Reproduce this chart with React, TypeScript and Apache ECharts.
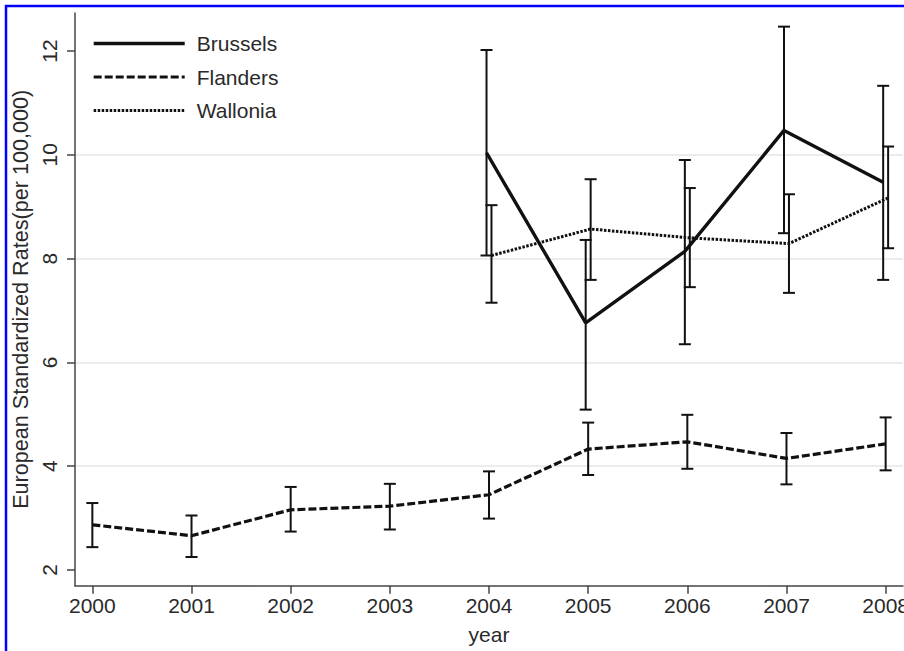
import React, { useEffect, useRef } from "react";
import * as echarts from "echarts";

const years = [2000, 2001, 2002, 2003, 2004, 2005, 2006, 2007, 2008];
const yTicks = [2, 4, 6, 8, 10, 12];

const flandersRate = [2.87, 2.66, 3.16, 3.23, 3.45, 4.33, 4.47, 4.15, 4.43];
const flandersLow = [2.44, 2.25, 2.74, 2.78, 2.99, 3.83, 3.95, 3.65, 3.92];
const flandersHigh = [3.29, 3.05, 3.6, 3.66, 3.9, 4.84, 4.99, 4.64, 4.94];

const regionYears = [2004, 2005, 2006, 2007, 2008];
const brusselsRate = [10.04, 6.76, 8.14, 10.47, 9.47];
const brusselsLow = [8.06, 5.09, 6.35, 8.49, 7.59];
const brusselsHigh = [12.02, 8.36, 9.9, 12.47, 11.33];

const walloniaRate = [8.06, 8.57, 8.4, 8.29, 9.17];
const walloniaLow = [7.15, 7.59, 7.45, 7.34, 8.2];
const walloniaHigh = [9.03, 9.53, 9.36, 9.24, 10.16];

const brusselsJitter = -0.025;
const walloniaJitter = 0.025;

const FONT = "'Liberation Sans', Arial, sans-serif";
const INK = "#111";
const TEXT = "#2a2a2a";

function errSeries(name: string, xs: number[], lo: number[], hi: number[], shift: number) {
  return {
    type: "custom",
    name,
    data: xs.map((x, i) => [x + shift, lo[i], hi[i]]),
    encode: { x: 0, y: [1, 2] },
    z: 3,
    silent: true,
    renderItem: (_params: any, api: any) => {
      const x = api.value(0);
      const l = api.value(1);
      const h = api.value(2);
      const p1 = api.coord([x, h]);
      const p2 = api.coord([x, l]);
      const w = 6;
      const style = { stroke: INK, lineWidth: 2 };
      return {
        type: "group",
        children: [
          { type: "line", shape: { x1: p1[0], y1: p1[1], x2: p2[0], y2: p2[1] }, style },
          { type: "line", shape: { x1: p1[0] - w, y1: p1[1], x2: p1[0] + w, y2: p1[1] }, style },
          { type: "line", shape: { x1: p2[0] - w, y1: p2[1], x2: p2[0] + w, y2: p2[1] }, style },
        ],
      };
    },
  };
}

export default function App() {
  const ref = useRef<HTMLDivElement>(null);
  useEffect(() => {
    if (!ref.current) return;
    const chart = echarts.init(ref.current, null, { renderer: "svg" });
    chart.setOption({
      animation: false,
      backgroundColor: "#fff",
      textStyle: { fontFamily: FONT },
      grid: { left: 75, right: 1, top: 13, bottom: 65.3, containLabel: false, outerBoundsMode: "none" },
      legend: {
        orient: "vertical",
        left: 92,
        top: 33,
        padding: 0,
        itemWidth: 91,
        itemHeight: 14,
        itemGap: 12.5,
        selectedMode: false,
        itemStyle: { opacity: 0 },
        textStyle: { fontSize: 21, color: TEXT, fontFamily: FONT, padding: [0, 0, 0, 7] },
        data: [
          { name: "Brussels", lineStyle: { width: 3.4 } },
          { name: "Flanders", lineStyle: { width: 3.2 } },
          { name: "Wallonia", lineStyle: { width: 3 } },
        ],
      },
      xAxis: {
        type: "value",
        min: 1999.825,
        max: 2008.175,
        name: "year",
        nameLocation: "middle",
        nameGap: 38,
        nameTextStyle: { fontSize: 21, color: TEXT, fontFamily: FONT },
        axisLine: { show: true, onZero: false, lineStyle: { color: "#444", width: 1.5 } },
        axisTick: { show: true, length: 8, customValues: years, lineStyle: { color: "#444", width: 1.5 } },
        axisLabel: {
          customValues: years,
          fontSize: 21,
          color: TEXT,
          margin: 9,
          formatter: (v: number) => String(Math.round(v)),
        },
        splitLine: { show: false },
      },
      yAxis: {
        type: "value",
        min: 1.697,
        max: 12.733,
        name: "European Standardized Rates(per 100,000)",
        nameLocation: "middle",
        nameGap: 43,
        nameTextStyle: { fontSize: 21.6, color: TEXT, fontFamily: FONT },
        axisLine: { show: true, onZero: false, lineStyle: { color: "#444", width: 1.5 } },
        axisTick: { show: true, length: 8, customValues: yTicks, lineStyle: { color: "#444", width: 1.5 } },
        axisLabel: {
          customValues: yTicks,
          rotate: 90,
          fontSize: 21,
          color: TEXT,
          margin: 15,
        },
        splitLine: {
          show: true,
          showMinLine: false,
          showMaxLine: false,
          lineStyle: { color: "#e6e6e6", width: 1.5 },
        },
      },
      graphic: [
        {
          type: "rect",
          shape: { x: 6, y: 6, width: 1200, height: 1200 },
          style: { fill: "none", stroke: "#0000ff", lineWidth: 2.5 },
          silent: true,
          z: 100,
        },
      ],
      series: [
        {
          type: "line",
          name: "Brussels",
          data: regionYears.map((y, i) => [y + brusselsJitter, brusselsRate[i]]),
          symbol: "none",
          lineStyle: { color: INK, width: 3.4, type: "solid" },
          itemStyle: { color: INK },
          z: 4,
        },
        {
          type: "line",
          name: "Flanders",
          data: years.map((y, i) => [y, flandersRate[i]]),
          symbol: "none",
          lineStyle: { color: INK, width: 3.2, type: [8, 3] },
          itemStyle: { color: INK },
          z: 4,
        },
        {
          type: "line",
          name: "Wallonia",
          data: regionYears.map((y, i) => [y + walloniaJitter, walloniaRate[i]]),
          symbol: "none",
          lineStyle: { color: INK, width: 3, type: [2.5, 1.5] },
          itemStyle: { color: INK },
          z: 4,
        },
        errSeries("Brussels CI", regionYears, brusselsLow, brusselsHigh, brusselsJitter),
        errSeries("Flanders CI", years, flandersLow, flandersHigh, 0),
        errSeries("Wallonia CI", regionYears, walloniaLow, walloniaHigh, walloniaJitter),
      ],
    });
    return () => chart.dispose();
  }, []);
  return <div ref={ref} style={{ width: 904, height: 651, position: "fixed", left: 0, top: 0 }} />;
}
